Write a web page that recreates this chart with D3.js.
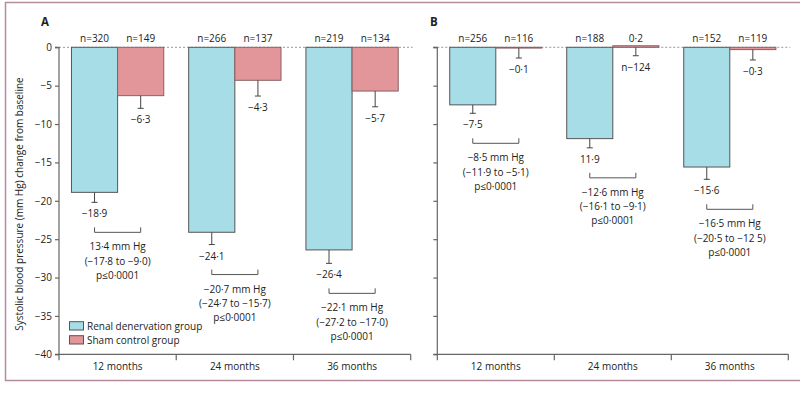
<!DOCTYPE html>
<html>
<head>
<meta charset="utf-8">
<script src="https://cdn.jsdelivr.net/npm/d3@7"></script>
<style>
  body { margin: 0; background: #fff; }
  text { font-family: "Open Sans", sans-serif; fill: #222; }
</style>
</head>
<body>
<div class="box"></div>
<script>
// data
const months = ['12 months', '24 months', '36 months']
const groups = ['renal', 'sham']
const groupNames = ['Renal denervation group', 'Sham control group']
const yTicks = [0, -5, -10, -15, -20, -25, -30, -35, -40]

const renalA = [-18.9, -24.1, -26.4]
const shamA = [-6.3, -4.3, -5.7]
const renalErrA = [1.3, 1.6, 1.75]
const shamErrA = [1.65, 2.05, 2.05]
const renalNA = ['n=320', 'n=266', 'n=219']
const shamNA = ['n=149', 'n=137', 'n=134']
const renalLabA = ['−18·9', '−24·1', '−26·4']
const shamLabA = ['−6·3', '−4·3', '−5·7']
const diffA = [
	['13·4 mm Hg', '(−17·8 to −9·0)', 'p≤0·0001'],
	['−20·7 mm Hg', '(−24·7 to −15·7)', 'p≤0·0001'],
	['−22·1 mm Hg', '(−27·2 to −17·0)', 'p≤0·0001']
]

const renalB = [-7.5, -11.9, -15.6]
const shamB = [-0.1, 0.2, -0.3]
const renalErrB = [1.1, 1.2, 1.6]
const shamErrB = [1.3, 1.3, 1.35]
const renalNB = ['n=256', 'n=188', 'n=152']
const shamNB = ['n=116', 'n−124', 'n=119']
const renalLabB = ['−7·5', '11·9', '−15·6']
const shamLabB = ['−0·1', '0·2', '−0·3']
const diffB = [
	['−8·5 mm Hg', '(−11·9 to −5·1)', 'p≤0·0001'],
	['−12·6 mm Hg', '(−16·1 to −9·1)', 'p≤0·0001'],
	['−16·5 mm Hg', '(−20·5 to −12 5)', 'p≤0·0001']
]

const colors = {renal: '#a6dde7', sham: '#e2969a'}
const fs = '10px'

const svg = d3.select('.box')
	.append('svg')
	.attr('width', 800)
	.attr('height', 393)

// cadre
svg.append('path')
	.attr('d', 'M800,2.5 H5.5 V380.5 H800')
	.attr('fill', 'none')
	.attr('stroke', '#b58c9e')
	.attr('stroke-width', 1.5)

const y = d3.scaleLinear()
	.domain([0, -40])
	.range([47.3, 354.3])

function panel(opt) {
	const g = svg.append('g')
	const x0 = d3.scaleBand()
		.domain(months)
		.range([opt.left, opt.right])
	const x1 = d3.scaleBand()
		.domain(groups)
		.range([0, x0.bandwidth()])
		.paddingInner(0)
		.paddingOuter(0.27)

	// ligne du zero
	g.append('line')
		.attr('x1', opt.left - 4).attr('x2', opt.right + 2)
		.attr('y1', y(0)).attr('y2', y(0))
		.attr('stroke', '#999')
		.attr('stroke-dasharray', '2,2')

	const rows = months.map((m, i) => ({
		m,
		renal: opt.renal[i], sham: opt.sham[i],
		renalErr: opt.renalErr[i], shamErr: opt.shamErr[i],
		renalN: opt.renalN[i], shamN: opt.shamN[i],
		renalLab: opt.renalLab[i], shamLab: opt.shamLab[i],
		diff: opt.diff[i]
	}))

	const cx = (d, k) => x0(d.m) + x1(k) + x1.bandwidth() / 2

	groups.forEach(k => {
		g.selectAll('rect.' + k)
			.data(rows)
			.enter()
			.append('rect')
			.attr('class', k)
			.attr('x', d => x0(d.m) + x1(k))
			.attr('width', x1.bandwidth())
			.attr('y', d => y(Math.max(0, d[k])))
			.attr('height', d => Math.abs(y(d[k]) - y(0)))
			.attr('fill', colors[k])
			.attr('stroke', k === 'renal' ? '#555' : '#8a6064')
			.attr('stroke-width', 1)

		// barres d'erreur (vers le bas)
		const errTop = d => d[k] >= 0 ? y(0) : y(d[k])
		const errEnd = d => y(d[k] - d[k + 'Err'])
		g.selectAll('line.err' + k)
			.data(rows)
			.enter()
			.append('line')
			.attr('x1', d => cx(d, k)).attr('x2', d => cx(d, k))
			.attr('y1', errTop).attr('y2', errEnd)
			.attr('stroke', '#444')
		g.selectAll('line.cap' + k)
			.data(rows)
			.enter()
			.append('line')
			.attr('x1', d => cx(d, k) - 3).attr('x2', d => cx(d, k) + 3)
			.attr('y1', errEnd).attr('y2', errEnd)
			.attr('stroke', '#444')

		// en haut : n (ou la valeur si positive)
		g.selectAll('text.top' + k)
			.data(rows)
			.enter()
			.append('text')
			.attr('x', d => cx(d, k))
			.attr('y', 41.5)
			.attr('text-anchor', 'middle')
			.style('font-size', fs)
			.text(d => d[k] >= 0 ? d[k + 'Lab'] : d[k + 'N'])
		// en bas : la valeur (ou n si positive)
		g.selectAll('text.bot' + k)
			.data(rows)
			.enter()
			.append('text')
			.attr('x', d => cx(d, k))
			.attr('y', d => errEnd(d) + 15)
			.attr('text-anchor', 'middle')
			.style('font-size', fs)
			.text(d => d[k] >= 0 ? d[k + 'N'] : d[k + 'Lab'])
	})

	// crochets de comparaison
	const by = d => y(d.renal - d.renalErr) + 30
	g.selectAll('path.bracket')
		.data(rows)
		.enter()
		.append('path')
		.attr('d', d => `M${cx(d, 'renal')},${by(d) - 5} V${by(d)} H${cx(d, 'sham')} V${by(d) - 5}`)
		.attr('fill', 'none')
		.attr('stroke', '#555')
	rows.forEach(d => {
		const mx = (cx(d, 'renal') + cx(d, 'sham')) / 2
		d.diff.forEach((t, j) => {
			g.append('text')
				.attr('x', mx)
				.attr('y', by(d) + 18 + j * 14.3)
				.attr('text-anchor', 'middle')
				.style('font-size', fs)
				.text(t)
		})
	})

	// axes
	const axisY = d3.axisLeft(y)
		.tickValues(yTicks)
		.tickSize(4)
		.tickFormat(opt.showLabels ? (d => d === 0 ? '0' : '−' + Math.abs(d)) : '')
	const gy = g.append('g')
		.attr('transform', `translate(${opt.left},0)`)
		.call(axisY)
	gy.select('.domain').attr('d', `M-4,${y(0)} H0 V${y(-40)} H-4`)
	gy.selectAll('line, path').attr('stroke', '#666').attr('stroke-width', 1.2)
	gy.selectAll('text').style('font-size', fs).style('font-family', '"Open Sans", sans-serif').attr('fill', '#222')

	const gx = g.append('g')
		.attr('transform', `translate(0,${y(-40)})`)
	gx.append('line')
		.attr('x1', opt.left).attr('x2', opt.right)
		.attr('stroke', '#666').attr('stroke-width', 1.2)
	gx.selectAll('line.tick')
		.data(months.map(m => x0(m)).concat([opt.right]))
		.enter()
		.append('line')
		.attr('x1', d => d).attr('x2', d => d)
		.attr('y1', 0).attr('y2', 6)
		.attr('stroke', '#666').attr('stroke-width', 1.2)
	gx.selectAll('text')
		.data(months)
		.enter()
		.append('text')
		.attr('x', d => x0(d) + x0.bandwidth() / 2)
		.attr('y', 15.5)
		.attr('text-anchor', 'middle')
		.style('font-size', fs)
		.text(d => d)

	// lettre du panneau
	g.append('text')
		.attr('x', opt.letterX)
		.attr('y', 26)
		.style('font-size', '11.5px')
		.style('font-weight', 'bold')
		.text(opt.letter)
}

panel({left: 59, right: 410.7, letter: 'A', letterX: 41, showLabels: true,
	renal: renalA, sham: shamA, renalErr: renalErrA, shamErr: shamErrA,
	renalN: renalNA, shamN: shamNA, renalLab: renalLabA, shamLab: shamLabA, diff: diffA})
panel({left: 437.3, right: 788.3, letter: 'B', letterX: 430, showLabels: false,
	renal: renalB, sham: shamB, renalErr: renalErrB, shamErr: shamErrB,
	renalN: renalNB, shamN: shamNB, renalLab: renalLabB, shamLab: shamLabB, diff: diffB})

// titre de l'axe y
svg.append('text')
	.attr('transform', 'translate(23,204) rotate(-90)')
	.attr('text-anchor', 'middle')
	.style('font-size', fs)
	.text('Systolic blood pressure (mm Hg) change from baseline')

// legende
const legend = svg.append('g')
groups.forEach((k, i) => {
	legend.append('rect')
		.attr('x', 69.5).attr('y', 321.7 + i * 14)
		.attr('width', 14).attr('height', 8.3)
		.attr('fill', colors[k])
		.attr('stroke', '#555')
	legend.append('text')
		.attr('x', 87).attr('y', 329.5 + i * 14)
		.style('font-size', fs)
		.text(groupNames[i])
})
</script>
</body>
</html>
